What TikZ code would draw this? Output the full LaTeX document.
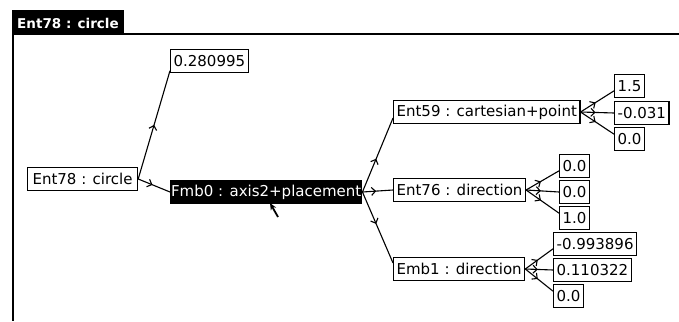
\documentclass[tikz,border=0pt]{standalone}
\usepackage{fontspec}
\setmainfont{DejaVu Sans}
\usetikzlibrary{calc,decorations.markings,arrows.meta}

\tikzset{
  every node/.style={font=\fontsize{15}{15}\selectfont},
  entbox/.style={draw, line width=1.2pt, fill=white, anchor=west,
    inner xsep=3pt, inner ysep=1pt, minimum height=23pt},
  selbox/.style={entbox, fill=black, text=white, inner xsep=0.5pt},
  link/.style={line width=1.1pt},
  midarr/.style={link, postaction={decorate}, decoration={markings,
    mark=at position #1 with {\arrow{Straight Barb[length=4pt,width=8pt,line width=1.1pt]}}}},
  midarr/.default=0.5
}

\begin{document}
\begin{tikzpicture}[x=1pt,y=-1pt]
\useasboundingbox (0,0) rectangle (679,321);

% Window frame and title tab
\fill[black] (12,10) rectangle (124,35);
\node[text=white, font=\fontsize{13.5}{13.5}\selectfont\bfseries] (title) at (68,23) {Ent78 : circle};
\draw[line width=2pt] (12,34) -- (679,34);
\draw[line width=2pt] (13,34) -- (13,321);

% Entity nodes
\node[entbox, minimum width=110pt] (circ) at (27,179) {Ent78 : circle};
\node[entbox] (rad)  at (170,61) {0.280995};
\node[selbox] (axis) at (170,192) {Fmb0 : axis2+placement};
\node[entbox] (cpt)  at (393,112) {Ent59 : cartesian+point};
\node[entbox] (dirz) at (393,190) {Ent76 : direction};
\node[entbox] (dirx) at (393,269) {Emb1 : direction};

% Value nodes
\node[entbox] (cpt1) at (614,86)  {1.5};
\node[entbox] (cpt2) at (614,113) {-0.031};
\node[entbox] (cpt3) at (614,139) {0.0};
\node[entbox] (dirz1) at (559,166) {0.0};
\node[entbox] (dirz2) at (559,192) {0.0};
\node[entbox] (dirz3) at (559,218) {1.0};
\node[entbox] (dirx1) at (553,244) {-0.993896};
\node[entbox] (dirx2) at (553,270) {0.110322};
\node[entbox] (dirx3) at (553,296) {0.0};

% Connectors
\draw[midarr=0.5] (circ.east) -- ($(rad.south west)!0.1!(rad.north west)$);
\draw[midarr=0.45] (circ.east) -- (axis.west);

\draw[midarr=0.45] (axis.east) -- ($(cpt.south west)!0.25!(cpt.north west)$);
\draw[midarr=0.45] (axis.east) -- (dirz.west);
\draw[midarr=0.45] (axis.east) -- ($(dirx.north west)!0.25!(dirx.south west)$);

\foreach \src in {cpt, dirz, dirx} {
  \draw[midarr=0.45] (\src.east) -- ($(\src1.south west)!0.3!(\src1.north west)$);
  \draw[midarr=0.45] (\src.east) -- (\src2.west);
  \draw[midarr=0.45] (\src.east) -- ($(\src3.north west)!0.3!(\src3.south west)$);
}

% Mouse pointer
\coordinate (ptrtail) at (278,217);
\draw[line width=1.8pt, -{Stealth[length=7pt,width=6pt]}] (ptrtail) -- (270,203);

\end{tikzpicture}
\end{document}
